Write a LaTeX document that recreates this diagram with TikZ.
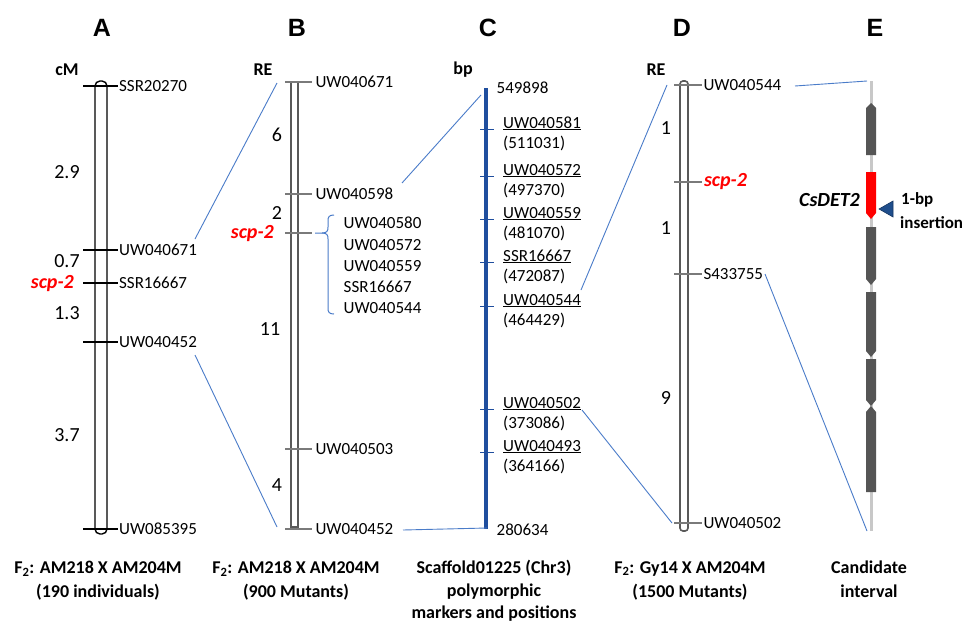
\documentclass[tikz,border=0pt]{standalone}
\usepackage{fontspec}
\setmainfont{Carlito}
\newfontfamily\headfont{Liberation Sans}
\usetikzlibrary{calc}
\definecolor{lnk}{HTML}{4A7CC9}
\definecolor{scaf}{HTML}{1F4E9E}
\definecolor{chrg}{HTML}{595959}
\definecolor{tickg}{HTML}{7A7A7A}
\definecolor{exon}{HTML}{555555}
\definecolor{intr}{HTML}{C8C8C8}
\definecolor{trib}{HTML}{1F4E8C}
\tikzset{
  lbl/.style={anchor=west, inner sep=0.5pt, font=\fontsize{17}{17}\selectfont},
  ulbl/.style={anchor=base west, inner sep=0pt, font=\fontsize{17}{17}\selectfont},
  num/.style={inner sep=0pt, font=\fontsize{20}{20}\selectfont},
  headl/.style={inner sep=0pt, font=\headfont\bfseries\fontsize{25}{25}\selectfont},
  unitl/.style={inner sep=0pt, font=\bfseries\fontsize{18}{18}\selectfont},
  capl/.style={anchor=north, inner sep=0pt, align=center, font=\bfseries\fontsize{18}{24}\selectfont},
  scpl/.style={inner sep=0pt, text=red, font=\bfseries\itshape\fontsize{20}{20}\selectfont},
  link/.style={draw=lnk, line width=0.9pt},
  tka/.style={draw=black, line width=1.3pt},
  tkg/.style={draw=tickg, line width=2pt},
  tkc/.style={draw=scaf, line width=1pt},
  exonshape/.style={fill=exon, draw=none},
}
\begin{document}
\begin{tikzpicture}[x=1pt, y=-1pt]
\useasboundingbox (0,0) rectangle (969,624);
\fill[white] (0,0) rectangle (969,624);

% ---------- headings ----------
\node[headl] (hA) at (102,28) {A};
\node[headl] (hB) at (297,28) {B};
\node[headl] (hC) at (488,28) {C};
\node[headl] (hD) at (682,28) {D};
\node[headl] (hE) at (875,28) {E};

\node[unitl] (uA) at (67,70) {cM};
\node[unitl] (uB) at (263,70) {RE};
\node[unitl] (uC) at (463,70) {bp};
\node[unitl] (uD) at (656,70) {RE};

% ---------- panel A ----------
\draw[black, line width=1.4pt, rounded corners=5pt] (95,81) rectangle (107,534);
\draw[tka] (83,86) -- (118,86) node[lbl] (a1) {SSR20270};
\draw[tka] (83,250) -- (118,250) node[lbl] (a2) {UW040671};
\draw[tka] (83,283) -- (118,283) node[lbl] (a3) {SSR16667};
\draw[tka] (83,342) -- (118,342) node[lbl] (a4) {UW040452};
\draw[tka] (83,529) -- (118,529) node[lbl] (a5) {UW085395};
\node[num] (na1) at (67,172) {2.9};
\node[num] (na2) at (67,261) {0.7};
\node[scpl, anchor=east] (sa) at (74,284) {scp-2};
\node[num] (na3) at (67,313) {1.3};
\node[num] (na4) at (67,435) {3.7};
\node[capl] (cA) at (98,561) {F\textsubscript{2}: AM218 X AM204M\\(190 individuals)};

% ---------- panel B ----------
\draw[chrg, line width=1.8pt] (291,82) rectangle (298,529);
\fill[chrg] (291,526) rectangle (298,530);
\draw[tkg] (285,82) -- (312,82) node[lbl, inner sep=2.5pt] (b1) {UW040671};
\draw[tkg] (285,194) -- (312,194) node[lbl, inner sep=2.5pt] (b2) {UW040598};
\draw[tkg] (285,233) -- (312,233) coordinate (bscp);
\draw[tkg] (285,449) -- (312,449) node[lbl, inner sep=2.5pt] (b3) {UW040503};
\draw[tkg] (285,529) -- (312,529) node[lbl, inner sep=2.5pt] (b4) {UW040452};
\node[num] (nb1) at (277,135) {6};
\node[num] (nb2) at (277,213) {2};
\node[scpl, anchor=east] (sb) at (274,234) {scp-2};
\node[num] (nb3) at (270,329) {11};
\node[num] (nb4) at (277,485) {4};
% brace
\draw[lnk, line width=1pt] (315,233) -- (322,233)
  .. controls (327,233) and (328,231) .. (328,227) -- (328,221)
  .. controls (328,217) and (329,215) .. (334,215);
\draw[lnk, line width=1pt] (322,233)
  .. controls (327,233) and (328,235) .. (328,239) -- (328,308)
  .. controls (328,312) and (329,314) .. (334,314);
\node[lbl] (bb1) at (343,223) {UW040580};
\node[lbl] (bb2) at (343,245) {UW040572};
\node[lbl] (bb3) at (343,266) {UW040559};
\node[lbl] (bb4) at (343,287) {SSR16667};
\node[lbl] (bb5) at (343,308) {UW040544};
\node[capl] (cB) at (296,561) {F\textsubscript{2}: AM218 X AM204M\\(900 Mutants)};

% ---------- panel C ----------
\draw[scaf, line width=3.5pt] (486,88) -- (486,529);
\node[lbl] (ctop) at (496,88) {549898};
\node[lbl] (cbot) at (496,530) {280634};
\foreach \yy/\nm/\ps/\id in {129/UW040581/511031/c1, 176/UW040572/497370/c2, 219/UW040559/481070/c3, 262/SSR16667/472087/c4, 306/UW040544/464429/c5, 409/UW040502/373086/c6, 452/UW040493/364166/c7}{
  \draw[tkc] (480,\yy) -- (494,\yy);
  \node[ulbl] (\id n) at (503,\yy-1) {\underline{\nm}};
  \node[ulbl] (\id p) at (503,\yy+19) {(\ps)};
}
\node[capl, font=\bfseries\fontsize{18}{22.5}\selectfont] (cC) at (494,560) {Scaffold01225 (Chr3)\\polymorphic\\markers and positions};

% ---------- panel D ----------
\draw[chrg, line width=1.6pt, rounded corners=3pt] (680,81) rectangle (688,531);
\draw[tkg] (674,85) -- (702,85) node[lbl] (d1) {UW040544};
\draw[tkg] (674,182) -- (702,182) node[scpl, anchor=west, inner sep=1pt] (sd) {scp-2};
\draw[tkg] (674,274) -- (702,274) node[lbl] (d2) {S433755};
\draw[tkg] (674,523) -- (702,523) node[lbl] (d3) {UW040502};
\node[num] (nd1) at (666,128) {1};
\node[num] (nd2) at (666,228) {1};
\node[num] (nd3) at (666,398) {9};
\node[capl] (cD) at (690,561) {F\textsubscript{2}: Gy14 X AM204M\\(1500 Mutants)};

% ---------- panel E ----------
\draw[intr, line width=3pt] (871,81) coordinate (etop) -- (871,531) coordinate (ebot);
\fill[exonshape] (866,155) -- (866,108) -- (871,103) -- (876,108) -- (876,155) -- cycle;
\fill[red] (866,172) -- (876,172) -- (876,213) -- (871,219) -- (866,213) -- cycle;
\fill[exonshape] (866,227) -- (876,227) -- (876,279) -- (871,285) -- (866,279) -- cycle;
\fill[exonshape] (866,292) -- (876,292) -- (876,351) -- (871,357) -- (866,351) -- cycle;
\fill[exonshape] (866,359) -- (876,359) -- (876,400) -- (871,406) -- (866,400) -- cycle;
\fill[exonshape] (866,492) -- (866,412) -- (871,406) -- (876,412) -- (876,492) -- cycle;
\node[inner sep=0pt, anchor=east, font=\bfseries\itshape\fontsize{20}{20}\selectfont] (gene) at (860,200) {CsDET2};
\fill[trib, draw=trib!70!black, line width=0.6pt] (879,209) -- (893,201) -- (893,217) -- cycle;
\node[inner sep=0pt, anchor=west, font=\bfseries\fontsize{17}{17}\selectfont] (ins1) at (901,200) {1-bp};
\node[inner sep=0pt, anchor=west, font=\bfseries\fontsize{17}{17}\selectfont] (ins2) at (900,223) {insertion};
\node[capl] (cE) at (869,561) {Candidate\\interval};

% ---------- links ----------
\coordinate (lA1) at (195,239);
\coordinate (lB1) at (277,83);
\coordinate (lA2) at (195,355);
\coordinate (lB2) at (277,527);
\coordinate (lB3) at (402,183);
\coordinate (lC1) at (481,95);
\coordinate (lB4) at (403,530);
\coordinate (lC2) at (487,528);
\coordinate (lC3) at (581,290);
\coordinate (lD1) at (667,85);
\coordinate (lC4) at (582,410);
\coordinate (lD2) at (672,523);
\coordinate (lD3) at (795,86);
\coordinate (lD4) at (765,274);
\draw[link] (lA1) -- (lB1);
\draw[link] (lA2) -- (lB2);
\draw[link] (lB3) -- (lC1);
\draw[link] (lB4) -- (lC2);
\draw[link] (lC3) -- (lD1);
\draw[link] (lC4) -- (lD2);
\draw[link] (lD3) -- ([xshift=-4pt]etop);
\draw[link] (lD4) -- ([xshift=-4pt]ebot);
\end{tikzpicture}
\end{document}
